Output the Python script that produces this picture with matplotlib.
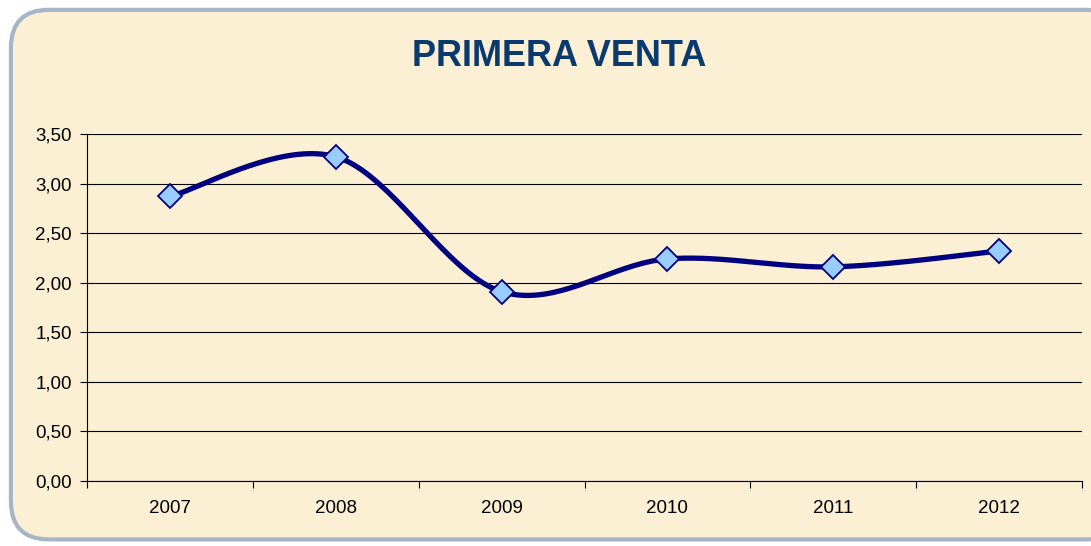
import numpy as np
import matplotlib
matplotlib.use('Agg')
import matplotlib.pyplot as plt
from matplotlib.patches import FancyBboxPatch
from matplotlib.ticker import FuncFormatter, MultipleLocator, FixedLocator

plt.rcParams['font.family'] = ['Liberation Sans', 'DejaVu Sans']

years = ['2007', '2008', '2009', '2010', '2011', '2012']
values = [2.87, 3.27, 1.91, 2.24, 2.16, 2.32]


def excel_smooth(xs, ys, steps=40):
    # Bezier smoothing like Excel's "smoothed line"
    pts = np.column_stack([xs, ys]).astype(float)
    n = len(pts)
    out = [pts[0]]
    for i in range(n - 1):
        p_prev = pts[i - 1] if i > 0 else pts[i]
        p0, p1 = pts[i], pts[i + 1]
        p_next = pts[i + 2] if i + 2 < n else pts[i + 1]
        c1 = p0 + (p1 - p_prev) / 6
        c2 = p1 - (p_next - p0) / 6
        t = np.linspace(0, 1, steps)[1:, None]
        seg = ((1 - t) ** 3) * p0 + 3 * ((1 - t) ** 2) * t * c1 + 3 * (1 - t) * t ** 2 * c2 + t ** 3 * p1
        out.extend(seg)
    out = np.array(out)
    return out[:, 0], out[:, 1]


fig = plt.figure(figsize=(10.91, 5.46), dpi=100)
fig.patch.set_facecolor('white')

# chart area background (parchment with rounded frame)
bg = FancyBboxPatch((0.010, 0.012), 1.02, 0.970, boxstyle='round,pad=0,rounding_size=0.035',
                    transform=fig.transFigure, facecolor='#FBEFD4', edgecolor='#A7B6C6',
                    linewidth=3, zorder=-10, mutation_aspect=2.0)
fig.patches.append(bg)

ax = fig.add_axes([0.0797, 0.119, 0.9121, 0.6356])
ax.set_facecolor('none')
ax.set_zorder(1)

x = np.arange(len(years))
sx, sy = excel_smooth(x, values)
ax.plot(sx, sy, color='#000080', linewidth=3.8, solid_capstyle='round', zorder=3)
ax.plot(x, values, linestyle='none', marker='D', markersize=12.5,
        markerfacecolor='#99CCFF', markeredgecolor='#000080', markeredgewidth=1.3, zorder=4)

ax.set_xlim(-0.5, len(years) - 0.5)
ax.set_ylim(0, 3.5)
ax.yaxis.set_major_locator(MultipleLocator(0.5))
ax.yaxis.set_major_formatter(FuncFormatter(lambda v, p: f'{v:.2f}'.replace('.', ',')))
ax.grid(axis='y', color='black', linewidth=0.8)
ax.set_axisbelow(True)

ax.set_xticks(x)
ax.set_xticklabels(years)
ax.xaxis.set_minor_locator(FixedLocator(np.arange(-0.5, len(years), 1.0)))
ax.tick_params(axis='x', which='major', length=0, pad=14, labelsize=13.5)
ax.tick_params(axis='x', which='minor', length=5, width=0.8, direction='out')
ax.tick_params(axis='y', length=5, width=0.8, labelsize=13.5, pad=6)

for s in ['top', 'right']:
    ax.spines[s].set_visible(False)
for s in ['left', 'bottom']:
    ax.spines[s].set_linewidth(0.8)
    ax.spines[s].set_color('black')

fig.text(0.513, 0.897, 'PRIMERA VENTA', ha='center', va='center',
         fontsize=26, fontweight='bold', color='#0B3A6E', zorder=5)

fig.savefig('out.png', dpi=100, facecolor=fig.get_facecolor())
